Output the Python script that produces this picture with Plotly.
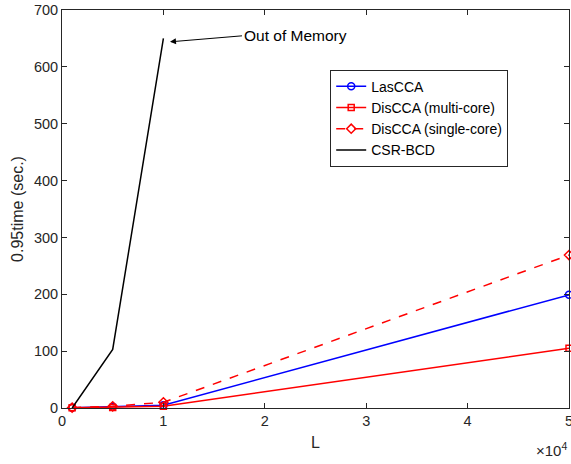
import plotly.graph_objects as go

L = [1000, 5000, 10000, 50000]
lascca = [0.5, 2, 5, 199]
discca_multi = [0.3, 1, 3, 105]
discca_single = [0.6, 3, 10, 269]
csr_L = [1000, 5000, 10000]
csr_bcd = [0, 103, 650]

FONT = "Liberation Sans, Arial"

fig = go.Figure()
fig.add_trace(go.Scatter(x=L, y=lascca, name="LasCCA", mode="lines+markers", cliponaxis=False,
                         line=dict(color="#0000ff", width=1.5),
                         marker=dict(symbol="circle-open", size=7, color="#0000ff", line=dict(width=1.5))))
fig.add_trace(go.Scatter(x=L, y=discca_multi, name="DisCCA (multi-core)", mode="lines+markers", cliponaxis=False,
                         line=dict(color="#ff0000", width=1.5),
                         marker=dict(symbol="square-open", size=6, color="#ff0000", line=dict(width=1.5))))
fig.add_trace(go.Scatter(x=L, y=discca_single, name="DisCCA (single-core)", mode="lines+markers", cliponaxis=False,
                         line=dict(color="#ff0000", width=1.5, dash="dash"),
                         marker=dict(symbol="diamond-open", size=7, color="#ff0000", line=dict(width=1.5))))
fig.add_trace(go.Scatter(x=csr_L, y=csr_bcd, name="CSR-BCD", mode="lines",
                         line=dict(color="#000000", width=1.5)))

axis_common = dict(showgrid=False, zeroline=False, showline=True, linecolor="#262626", linewidth=1,
                   mirror="ticks", ticks="inside", ticklen=5, tickcolor="#262626", automargin=False,
                   ticklabeloverflow="allow",
                   tickfont=dict(family=FONT, size=14.5, color="#262626"))

fig.update_xaxes(range=[0, 50000], tickvals=[0, 10000, 20000, 30000, 40000, 50000],
                 ticktext=["0", "1", "2", "3", "4", "5"],
                 title=dict(text="L", font=dict(family=FONT, size=16, color="#262626"), standoff=8),
                 **axis_common)
fig.update_yaxes(range=[0, 700], dtick=100,
                 title=dict(text="0.95time (sec.)", font=dict(family=FONT, size=16, color="#262626"), standoff=6),
                 **axis_common)

fig.add_annotation(x=10650, y=644, ax=72, ay=-6, text="Out of Memory", showarrow=True, arrowhead=2,
                   arrowsize=1.2, arrowwidth=1, arrowcolor="#000000", xanchor="left",
                   font=dict(family=FONT, size=15.5, color="#000000"))

fig.add_annotation(x=1.0, y=0, xref="paper", yref="paper", yshift=-30, xanchor="right", yanchor="top",
                   text="×10<sup>4</sup>", showarrow=False,
                   font=dict(family=FONT, size=15, color="#262626"))

fig.update_layout(width=571, height=464, margin=dict(l=62, r=2, t=10, b=56, autoexpand=False),
                  plot_bgcolor="white", paper_bgcolor="white", showlegend=True,
                  legend=dict(x=0.529, y=0.85, xanchor="left", yanchor="top", bgcolor="white",
                              bordercolor="#262626", borderwidth=1, tracegroupgap=0,
                              font=dict(family=FONT, size=14, color="#000000")))

fig.write_html("out.html", config={"displayModeBar": False},
               post_script="document.body.style.margin='0px';document.body.style.padding='0px';")
